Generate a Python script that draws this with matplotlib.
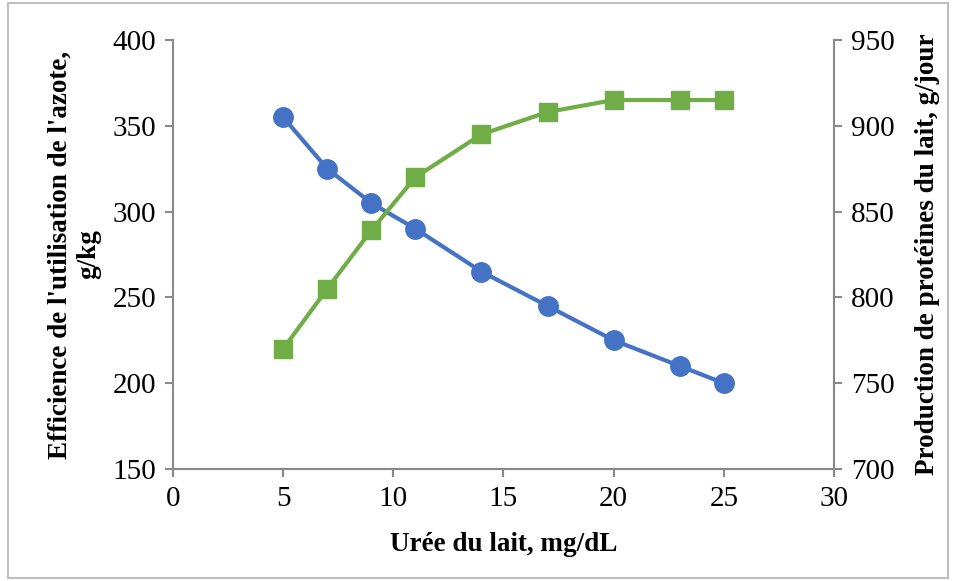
import matplotlib.pyplot as plt
from matplotlib.patches import Rectangle

uree = [5, 7, 9, 11, 14, 17, 20, 23, 25]
efficience = [355, 325, 305, 290, 265, 245, 225, 210, 200]
proteines = [770, 805, 839, 870, 895, 908, 915, 915, 915]

plt.rcParams['font.family'] = ['Liberation Serif', 'DejaVu Serif']

fig = plt.figure(figsize=(9.54, 5.81), dpi=100)
ax = fig.add_axes([0.1813, 0.1928, 0.6929, 0.7384])
ax2 = ax.twinx()

blue = '#4472C4'
green = '#70AD47'
grey = '#898989'

ax.plot(uree, efficience, color=blue, lw=3, marker='o', ms=14, zorder=3)
ax2.plot(uree, proteines, color=green, lw=3, marker='s', ms=13, zorder=3)

ax.set_xlim(0, 30)
ax.set_ylim(150, 400)
ax2.set_ylim(700, 950)
ax.set_xticks(range(0, 31, 5))
ax.set_yticks(range(150, 401, 50))
ax2.set_yticks(range(700, 951, 50))

for a in (ax, ax2):
    a.spines['top'].set_visible(False)
    for s in ('left', 'right', 'bottom'):
        a.spines[s].set_color(grey)
        a.spines[s].set_linewidth(1.5)
    a.tick_params(length=6, width=1.5, color=grey, labelsize=21, pad=6)
ax2.spines['left'].set_visible(False)
ax.spines['right'].set_visible(False)

ax.set_xlabel("Urée du lait, mg/dL", fontsize=19.5, fontweight='bold', labelpad=15)
ax.set_ylabel("Efficience de l'utilisation de l'azote,\ng/kg", fontsize=19.5,
              fontweight='bold', linespacing=1.2, labelpad=8)
ax2.set_ylabel("Production de protéines du lait, g/jour", fontsize=19.5,
               fontweight='bold', labelpad=15)

fig.patches.append(Rectangle((0.008, 0.005), 0.986, 0.99, transform=fig.transFigure,
                             fill=False, edgecolor='#BFBFBF', lw=1.5))

fig.savefig('out.png', dpi=100)
